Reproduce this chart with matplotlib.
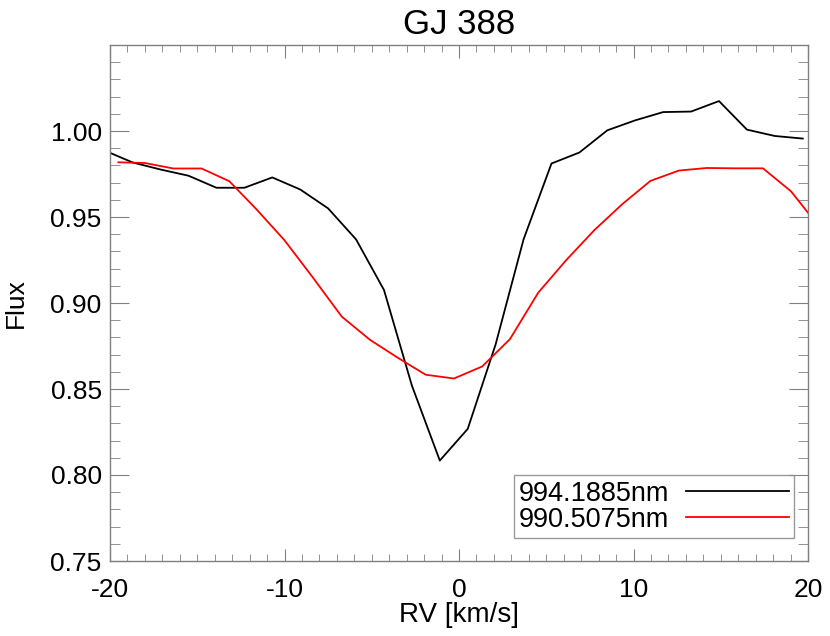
import numpy as np
import matplotlib
matplotlib.use('Agg')
import matplotlib.pyplot as plt
from matplotlib.ticker import MultipleLocator

plt.rcParams['font.family'] = ['Liberation Sans', 'DejaVu Sans']
plt.rcParams['axes.unicode_minus'] = False

# line profiles
rv_a = [-20.3, -18.7, -17.1, -15.5, -13.9, -12.3, -10.7, -9.1, -7.5, -5.9,
        -4.3, -2.7, -1.1, 0.5, 2.1, 3.7, 5.3, 6.9, 8.5, 10.1,
        11.7, 13.3, 14.9, 16.5, 18.1, 19.7]
flux_a = [0.9886, 0.9817, 0.9776, 0.9740, 0.9670, 0.9670, 0.9730, 0.9660, 0.9550, 0.9370,
          0.9076, 0.8520, 0.8084, 0.8268, 0.8760, 0.9370, 0.9811, 0.9875, 1.0004, 1.0062,
          1.0110, 1.0113, 1.0174, 1.0008, 0.9971, 0.9956]

rv_b = [-19.52, -18.0, -16.37, -14.75, -13.16, -11.6, -10.01, -8.41, -6.72, -5.1,
        -3.48, -1.91, -0.29, 1.33, 2.92, 4.54, 6.15, 7.76, 9.36, 10.97,
        12.6, 14.2, 15.8, 17.42, 19.03, 20.65]
flux_b = [0.9818, 0.9814, 0.9782, 0.9782, 0.9708, 0.9544, 0.9366, 0.9153, 0.8921, 0.8786,
          0.8680, 0.8583, 0.8561, 0.8631, 0.8790, 0.9060, 0.9250, 0.9424, 0.9575, 0.9710,
          0.9770, 0.9785, 0.9783, 0.9783, 0.9649, 0.9442]

labels = ['994.1885nm', '990.5075nm']

fig = plt.figure(figsize=(8.3, 6.36), dpi=100)
ax = fig.add_axes([110/830, 1 - 561/636, 698/830, 516/636])

ax.plot(rv_a, flux_a, color='black', lw=1.3, label=labels[0])
ax.plot(rv_b, flux_b, color='red', lw=1.3, label=labels[1])

ax.set_xlim(-20, 20)
ax.set_ylim(0.75, 1.05)
ax.set_xticks([-20, -10, 0, 10, 20])
ax.set_yticks([0.75, 0.80, 0.85, 0.90, 0.95, 1.00])
ax.set_yticklabels(['0.75', '0.80', '0.85', '0.90', '0.95', '1.00'])
ax.xaxis.set_minor_locator(MultipleLocator(1))
ax.yaxis.set_minor_locator(MultipleLocator(0.01))

for s in ax.spines.values():
    s.set_color('#808080')
    s.set_linewidth(1.0)

ax.tick_params(axis='both', which='both', direction='in', top=True, right=True,
               colors='#808080', labelcolor='black', labelsize=19)
ax.tick_params(axis='x', which='major', length=9, pad=12)
ax.tick_params(axis='x', which='minor', length=5)
ax.tick_params(axis='y', which='major', length=14, pad=6)
ax.tick_params(axis='y', which='minor', length=7)

ax.set_xlabel('RV [km/s]', fontsize=20, labelpad=0)
ax.set_ylabel('Flux', fontsize=19, labelpad=16)
ax.set_title('GJ 388', fontsize=25, pad=8)

leg = ax.legend(loc='lower right', bbox_to_anchor=((794 - 110)/698, (561 - 538)/516),
                markerfirst=False, fontsize=19.5, frameon=True, fancybox=False,
                handlelength=3.8, handletextpad=0.6, borderpad=0.2, labelspacing=0.0,
                borderaxespad=0)
leg.get_frame().set_edgecolor('#808080')
leg.get_frame().set_linewidth(1.0)

fig.savefig('out.png', dpi=100)
